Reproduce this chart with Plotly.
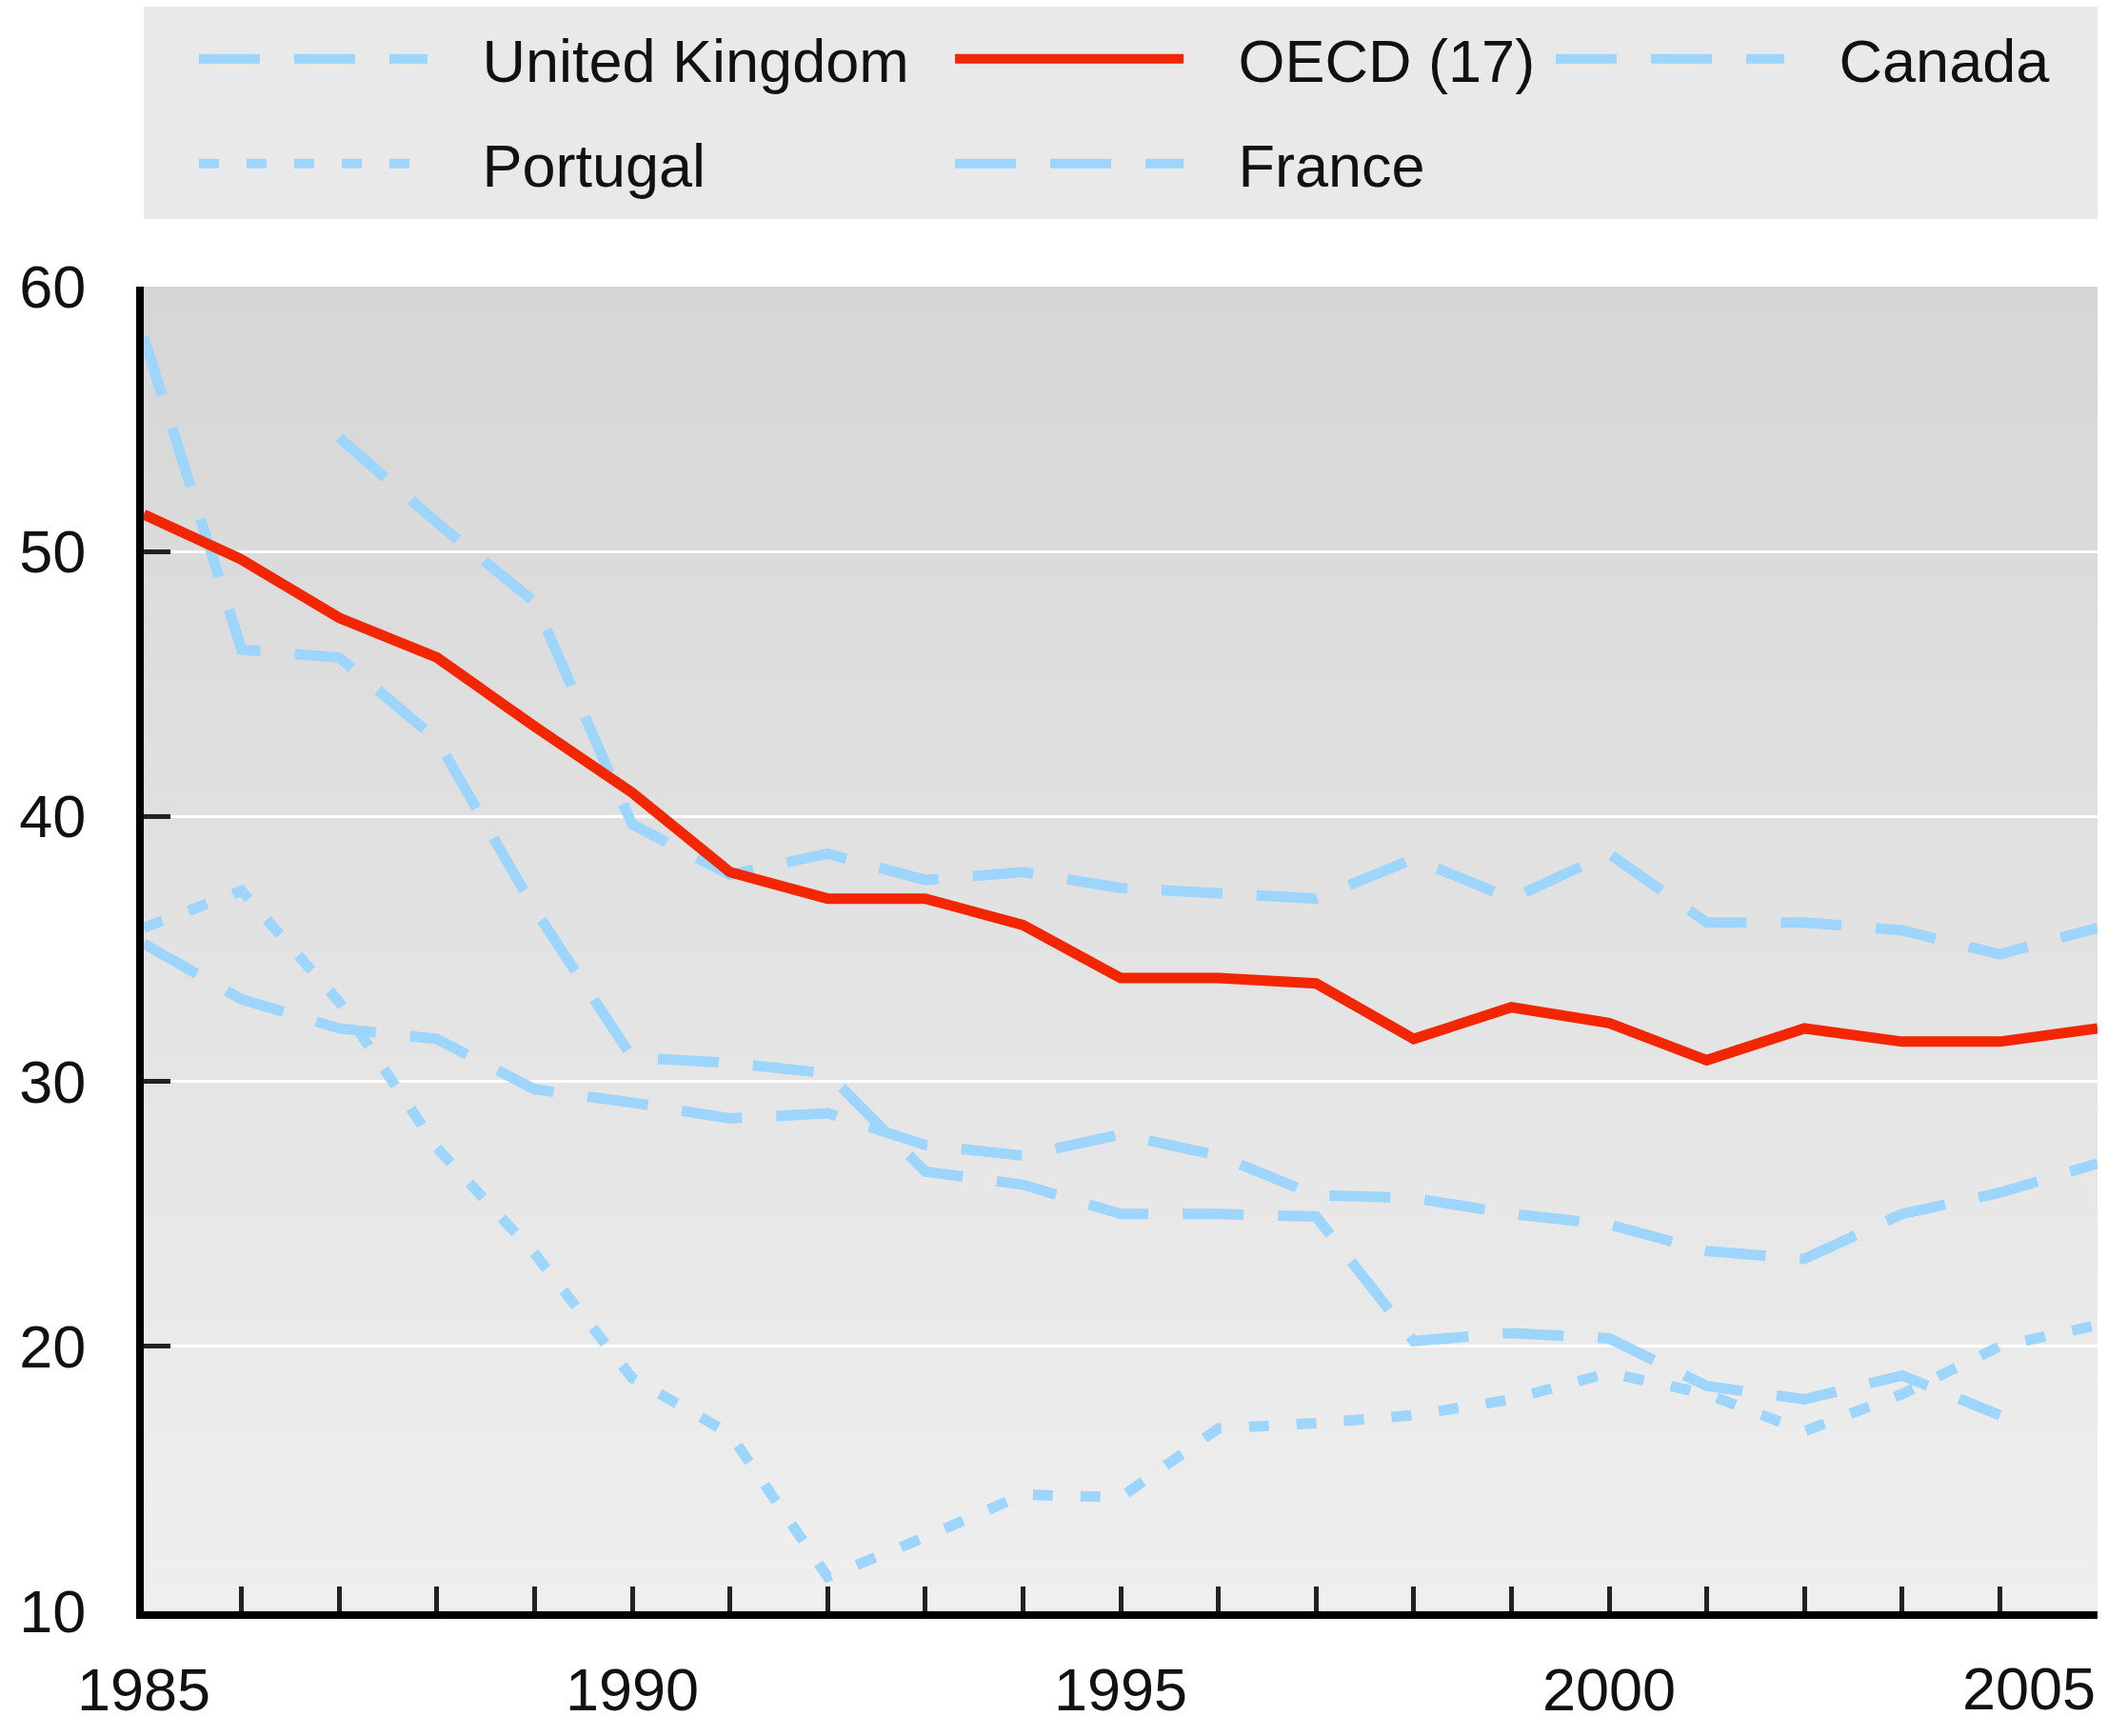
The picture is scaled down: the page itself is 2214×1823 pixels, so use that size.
import plotly.graph_objects as go

# ---------------- data ----------------
years = list(range(1985, 2006))
oecd = [51.4, 49.7, 47.5, 46.0, 43.4, 40.9, 37.9, 36.9, 36.9, 35.9, 33.9,
        33.9, 33.7, 31.6, 32.8, 32.2, 30.8, 32.0, 31.5, 31.5, 32.0]
united_kingdom = [58.1, 46.3, 46.0, 42.9, 36.5, 30.9, 30.7, 30.3, 26.6, 26.1, 25.0,
                  25.0, 24.9, 20.2, 20.5, 20.3, 18.5, 18.0, 18.9, 17.4, None]
canada = [None, None, 54.3, 51.1, 48.1, 39.7, 37.8, 38.6, 37.6, 37.9, 37.3,
          37.1, 36.9, 38.4, 36.9, 38.6, 36.0, 36.0, 35.7, 34.8, 35.8]
france = [35.2, 33.1, 32.0, 31.6, 29.7, 29.2, 28.6, 28.8, 27.6, 27.2, 28.0,
          27.2, 25.7, 25.6, 25.0, 24.6, 23.6, 23.3, 25.0, 25.8, 26.9]
portugal = [35.8, 37.2, 33.0, 27.5, 23.5, 18.8, 16.7, 11.3, 12.8, 14.4, 14.3,
            16.9, 17.1, 17.4, 18.0, 19.0, 18.2, 16.8, 18.2, 20.0, 20.8]

x_tick_years = [1985, 1990, 1995, 2000, 2005]
x_tick_labels = ["1985", "1990", "1995", "2000", "2005"]
y_ticks = [10, 20, 30, 40, 50, 60]

# ---------------- style ----------------
FONT = "Liberation Sans, Arial, sans-serif"
FS = 63
BLUE = "#9dd5fc"
RED = "#f22600"
TXT = "#111111"
NB = "\u00a0\u00a0\u00a0"

fig = go.Figure()

series = [
    ("United Kingdom", united_kingdom, BLUE, "64px,36px", "legend"),
    ("Canada", canada, BLUE, "64px,36px", "legend3"),
    ("France", france, BLUE, "64px,36px", "legend5"),
    ("Portugal", portugal, BLUE, "21px,29px", "legend4"),
    ("OECD (17)", oecd, RED, "solid", "legend2"),
]
for name, vals, col, dash, leg in series:
    fig.add_trace(go.Scatter(
        x=years, y=vals, mode="lines", name=NB + name,
        line=dict(color=col, width=11, dash=dash),
        connectgaps=False, legend=leg, showlegend=True, hoverinfo="skip",
    ))

# plot background gradient (dark top -> light bottom)
shapes = []
nb = 50
lo, hi = y_ticks[0], y_ticks[-1]
for i in range(nb):
    y0 = lo + (hi - lo) * i / nb
    y1 = lo + (hi - lo) * (i + 1) / nb
    t = (i + 0.5) / nb
    c = int(round(0xef + (0xd6 - 0xef) * t))
    shapes.append(dict(type="rect", xref="paper", yref="y", x0=0, x1=1,
                       y0=y0, y1=y1, fillcolor=f"rgb({c},{c},{c})",
                       line=dict(width=0), layer="below"))
# legend box background
shapes.append(dict(type="rect", xref="paper", yref="paper", x0=0, x1=1,
                   y0=1.051, y1=1.2114, fillcolor="#e9e9e9",
                   line=dict(width=0), layer="below"))

def legend_at(x, y):
    return dict(x=x, y=y, xanchor="left", yanchor="middle",
                bgcolor="rgba(0,0,0,0)", borderwidth=0, itemwidth=240,
                font=dict(family=FONT, size=FS, color=TXT), visible=True)

row1, row2 = 1.1720, 1.0929
c1, c2, c3 = 0.0258, 0.4128, 0.7203

fig.update_layout(
    width=2214, height=1823, showlegend=True,
    margin=dict(l=151, r=11, t=301, b=131, autoexpand=False),
    paper_bgcolor="white", plot_bgcolor="#e2e2e2",
    font=dict(family=FONT, size=FS, color=TXT),
    shapes=shapes,
    legend=legend_at(c1, row1),
    legend2=legend_at(c2, row1),
    legend3=legend_at(c3, row1),
    legend4=legend_at(c1, row2),
    legend5=legend_at(c2, row2),
    xaxis=dict(
        range=[years[0], years[-1]],
        tickmode="array", tickvals=x_tick_years[:-1], ticktext=x_tick_labels[:-1],
        ticks="inside", ticklen=26, tickwidth=5, tickcolor="#222",
        minor=dict(dtick=1, ticks="inside", ticklen=26, tickwidth=5, tickcolor="#222"),
        showline=True, linecolor="#000", linewidth=8,
        showgrid=False, zeroline=False, ticklabelstandoff=20,
        tickfont=dict(family=FONT, size=FS, color=TXT),
    ),
    yaxis=dict(
        range=[lo, hi], tickmode="array", tickvals=y_ticks,
        ticks="inside", ticklen=28, tickwidth=5, tickcolor="#222",
        showline=True, linecolor="#000", linewidth=8,
        showgrid=True, gridcolor="white", gridwidth=3,
        zeroline=False, ticklabelstandoff=40,
        tickfont=dict(family=FONT, size=FS, color=TXT),
    ),
    annotations=[dict(
        x=x_tick_years[-1], xref="x", y=0, yref="paper",
        text=x_tick_labels[-1], showarrow=False,
        xanchor="right", yanchor="top", yshift=-44,
        font=dict(family=FONT, size=FS, color=TXT),
    )],
)

fig.write_html("out.html", config={"displayModeBar": False},
               post_script="document.body.style.margin='0';document.body.style.overflow='hidden';")
